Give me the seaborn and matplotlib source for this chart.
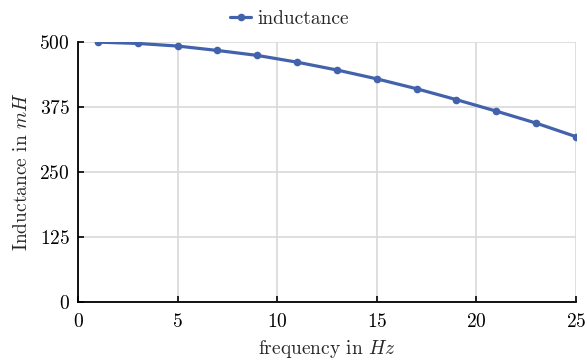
import matplotlib
matplotlib.use("Agg")
import matplotlib.pyplot as plt
import seaborn as sns
import pandas as pd

frequency = [1, 3, 5, 7, 9, 11, 13, 15, 17, 19, 21, 23, 25]
inductance = [499.5, 497, 492, 483.5, 474, 461, 446, 429, 410, 389, 367, 344, 318]
x_ticks = [0, 5, 10, 15, 20, 25]
y_ticks = [0, 125, 250, 375, 500]

sns.set_theme(style="whitegrid")
plt.rcParams.update({
    "font.family": "serif",
    "font.serif": ["cmr10"],
    "mathtext.fontset": "cm",
    "axes.formatter.use_mathtext": True,
    "axes.unicode_minus": False,
})

df = pd.DataFrame({"frequency": frequency, "inductance": inductance})

fig = plt.figure(figsize=(5.87, 3.61), dpi=100)
ax = fig.add_axes([0.133, 0.163, 0.848, 0.721])

sns.lineplot(data=df, x="frequency", y="inductance", ax=ax,
             color="#4263ab", linewidth=2.3, marker="o", markersize=5.5,
             markeredgewidth=0, label="inductance", legend=False)

ax.set_xlim(0, 25)
ax.set_ylim(0, 500)
ax.set_xticks(x_ticks)
ax.set_yticks(y_ticks)
ax.grid(True, color="#d9d9d9", linewidth=1.2)
ax.set_axisbelow(True)

for side in ("top", "right"):
    ax.spines[side].set_visible(False)
for side in ("left", "bottom"):
    ax.spines[side].set_color("black")
    ax.spines[side].set_linewidth(1.3)

ax.tick_params(axis="x", direction="in", length=4, width=1.2,
               colors="black", labelsize=14, pad=8, bottom=True)
ax.tick_params(axis="y", direction="in", length=4, width=1.2,
               colors="black", labelsize=14, pad=6, left=True)
ax.set_xlabel("frequency in $Hz$", fontsize=14, labelpad=5)
ax.set_ylabel("Inductance in $mH$", fontsize=14, labelpad=6)

handles, labels = ax.get_legend_handles_labels()
fig.legend(handles, labels, loc="upper center", bbox_to_anchor=(0.493, 1.02),
           frameon=False, fontsize=14, handlelength=1.1, handletextpad=0.3)

fig.savefig("out.png", dpi=100)
